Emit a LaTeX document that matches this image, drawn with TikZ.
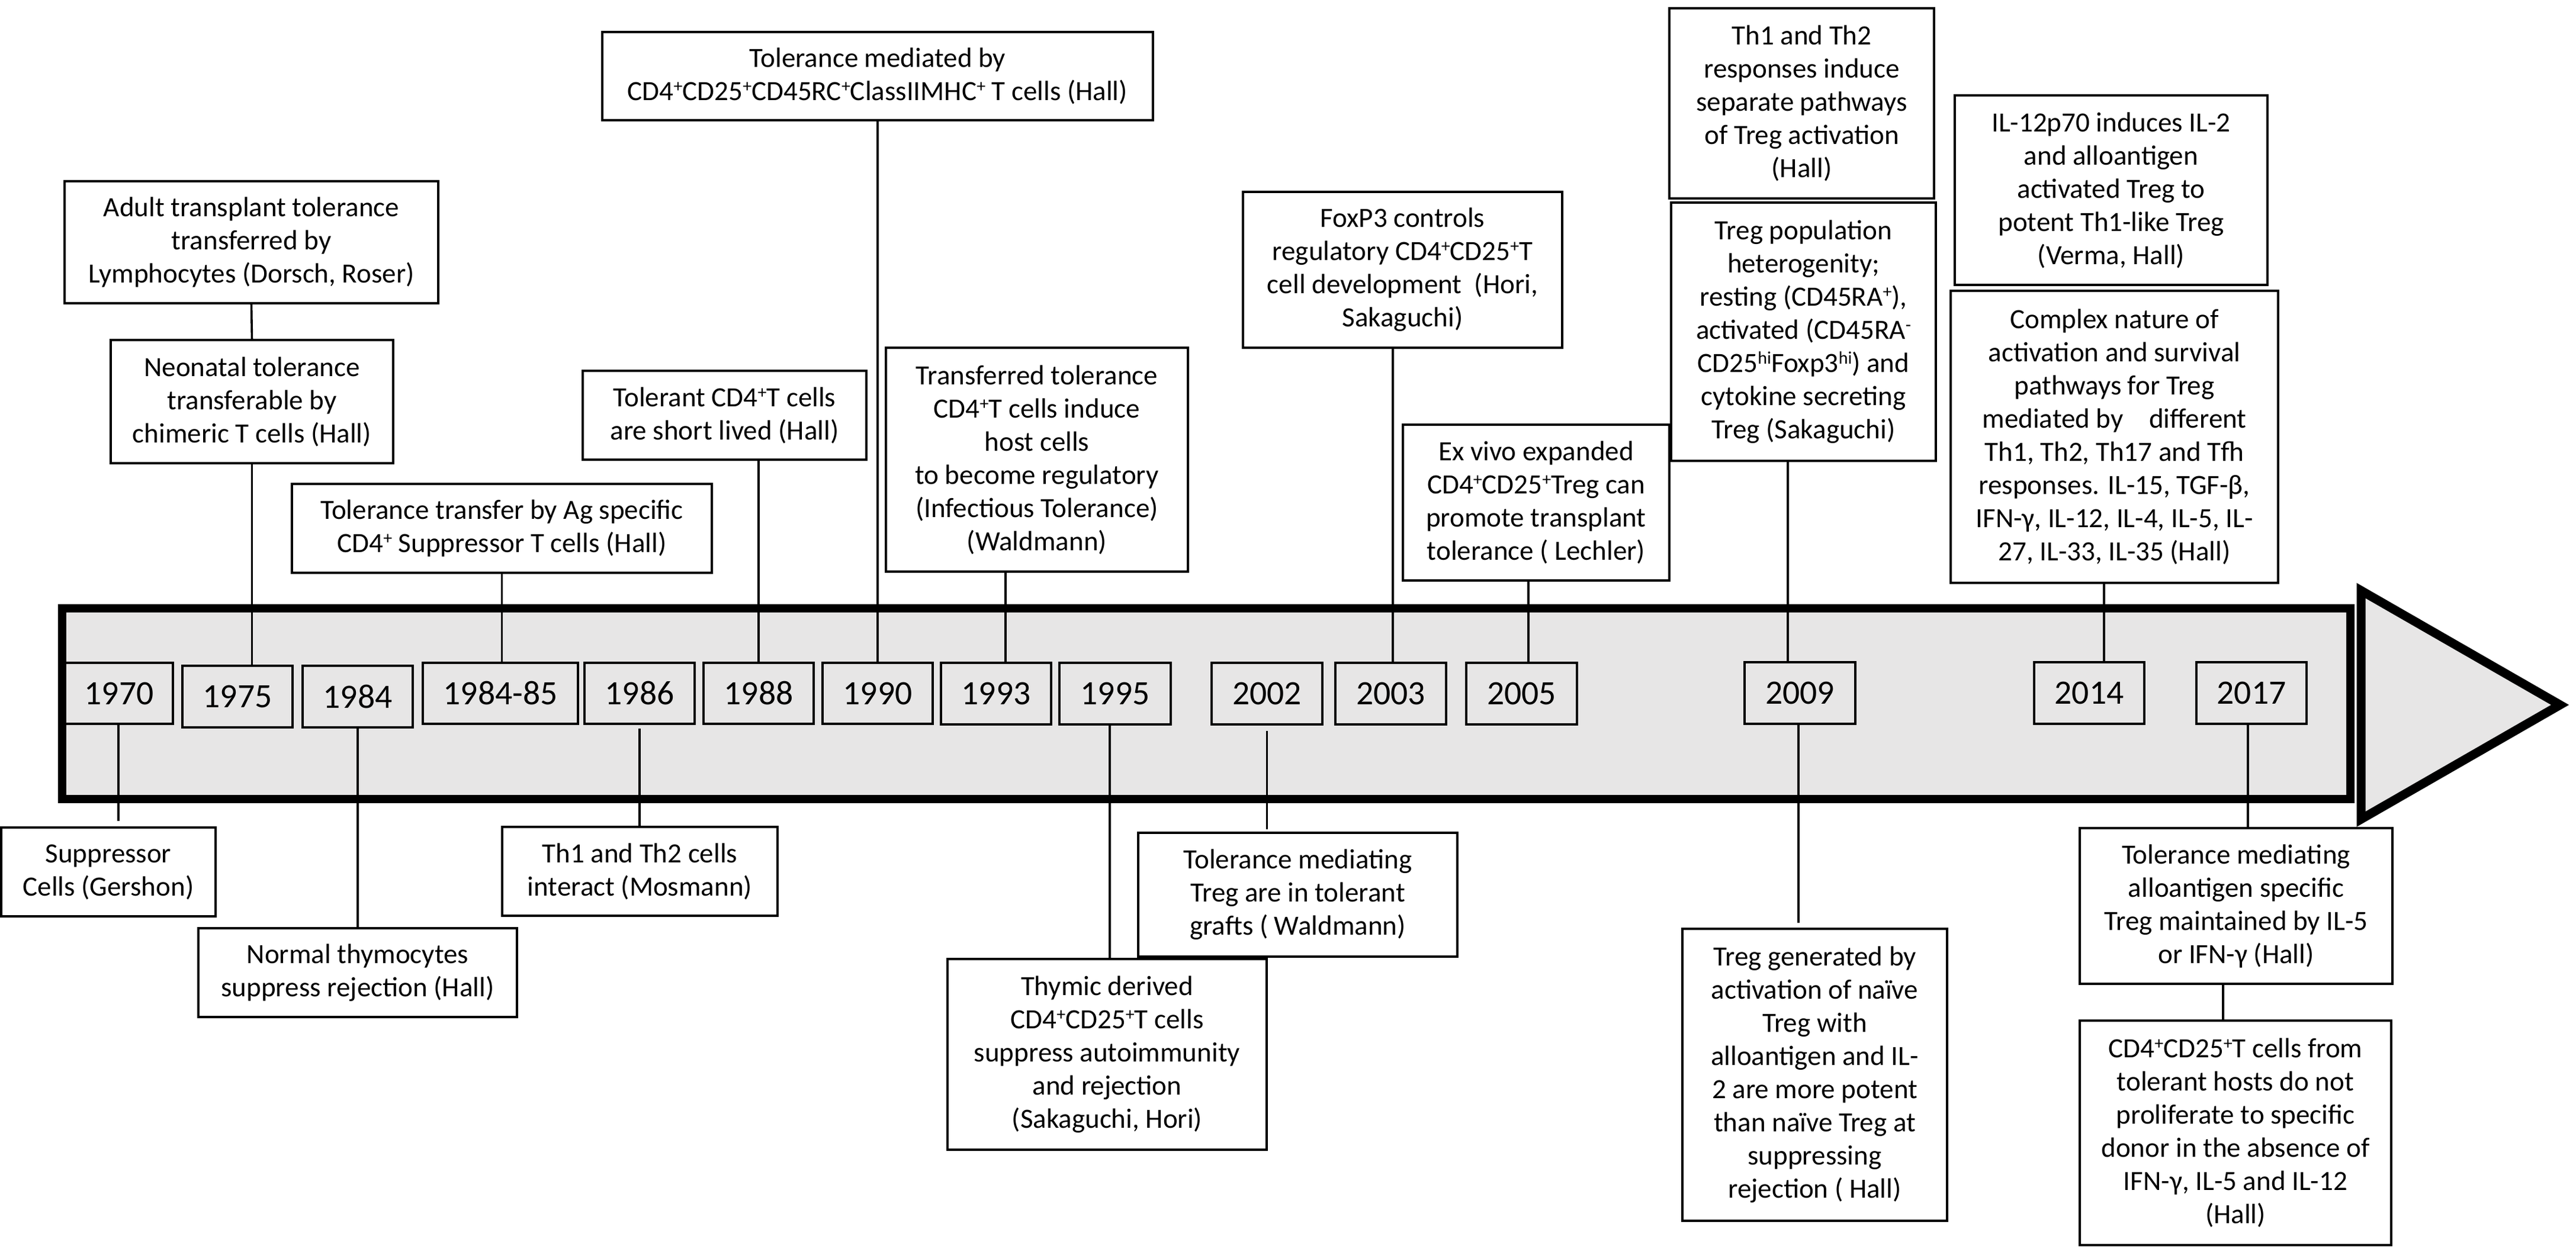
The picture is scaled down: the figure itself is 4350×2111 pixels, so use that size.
\documentclass[tikz,border=0pt]{standalone}
\usepackage{fontspec}
\setmainfont{Carlito}
\definecolor{bargray}{RGB}{231,230,230}
\newcommand\evfont{\fontsize{11.75pt}{14pt}\selectfont}
\newcommand\yrfont{\fontsize{14.4pt}{17pt}\selectfont}
\newcommand\sps[1]{\raisebox{0.62ex}{\fontsize{7.5pt}{8pt}\selectfont #1}}
\newcommand\ev[6]{\node[evbox, minimum width={(#4-#2)*0.25pt}, minimum height={(#5-#3)*0.25pt}] (#1) at ({(#2+#4)/2},{(#3+#5)/2}) {#6};}
\newcommand\yr[6]{\node[yearbox, minimum width={(#4-#2)*0.25pt}, minimum height={(#5-#3)*0.25pt}] (#1) at ({(#2+#4)/2},{(#3+#5)/2}) {#6};}
\begin{document}
\begin{tikzpicture}[x=0.25pt, y=-0.25pt,
  evbox/.style={draw, fill=white, line width=0.9pt, inner sep=0pt, outer sep=0pt, align=center, font=\evfont},
  yearbox/.style={draw, fill=bargray, line width=0.8pt, inner sep=0pt, outer sep=0pt, font=\yrfont},
  conn/.style={draw, line width=0.9pt}]
\useasboundingbox (0,0) rectangle (4350,2111);
\fill[white] (0,0) rectangle (4350,2111);
% timeline bar and arrow head
\draw[line width=3.5pt, fill=bargray] (105,1027) rectangle (3969,1349);
\draw[line width=3.75pt, fill=bargray, line join=miter] (3987,997) -- (4323,1190) -- (3987,1383) -- cycle;
% year boxes
\yr{y1970}{110}{1119}{292}{1222}{1970}
\yr{y1975}{308}{1124}{494}{1228}{1975}
\yr{y1984}{511}{1124}{697}{1228}{1984}
\yr{y1984b}{714}{1119}{976}{1222}{1984-85}
\yr{y1986}{987}{1119}{1173}{1222}{1986}
\yr{y1988}{1188}{1119}{1374}{1222}{1988}
\yr{y1990}{1389}{1119}{1575}{1222}{1990}
\yr{y1993}{1589}{1119}{1775}{1223}{1993}
\yr{y1995}{1789}{1119}{1977}{1223}{1995}
\yr{y2002}{2046}{1119}{2233}{1223}{2002}
\yr{y2003}{2255}{1119}{2442}{1223}{2003}
\yr{y2005}{2476}{1119}{2663}{1223}{2005}
\yr{y2009}{2946}{1118}{3133}{1222}{2009}
\yr{y2014}{3435}{1118}{3621}{1222}{2014}
\yr{y2017}{3709}{1118}{3895}{1222}{2017}
% events above
\ev{adult}{109}{306}{740}{512}{Adult transplant tolerance\\transferred by\\Lymphocytes (Dorsch, Roser)}
\ev{neonatal}{187}{574}{664}{782}{Neonatal tolerance\\transferable by\\chimeric T cells (Hall)}
\ev{tolTransfer}{493}{817}{1202}{967}{Tolerance transfer by Ag specific\\CD4\sps{+} Suppressor T cells (Hall)}
\ev{tolCD4}{984}{626}{1463}{776}{Tolerant CD4\sps{+}T cells\\are short lived (Hall)}
\ev{tolMed}{1017}{54}{1947}{203}{Tolerance mediated by\\CD4\sps{+}CD25\sps{+}CD45RC\sps{+}ClassIIMHC\sps{+} T cells (Hall)}
\ev{transferred}{1496}{587}{2006}{965}{Transferred tolerance\\CD4\sps{+}T cells induce\\host cells\\to become regulatory\\(Infectious Tolerance)\\(Waldmann)}
\ev{foxp3}{2099}{324}{2638}{587}{FoxP3 controls\\regulatory CD4\sps{+}CD25\sps{+}T\\cell development\ \ (Hori,\\Sakaguchi)}
\ev{exvivo}{2369}{717}{2819}{980}{Ex vivo expanded\\CD4\sps{+}CD25\sps{+}Treg can\\promote transplant\\tolerance ( Lechler)}
\ev{thresp}{2819}{14}{3266}{335}{Th1 and Th2\\responses induce\\separate pathways\\of Treg activation\\(Hall)}
\ev{tregpop}{2822}{342}{3269}{778}{Treg population\\heterogenity;\\resting (CD45RA\sps{+}),\\activated (CD45RA\sps{-}\\CD25\sps{hi}Foxp3\sps{hi}) and\\cytokine secreting\\Treg (Sakaguchi)}
\ev{iltwelve}{3301}{161}{3829}{481}{IL-12p70 induces IL-2\\and alloantigen\\activated Treg to\\potent Th1-like Treg\\(Verma, Hall)}
\ev{complex}{3294}{491}{3847}{984}{Complex nature of\\activation and survival\\pathways for Treg\\mediated by\hspace{0.7em} different\\Th1, Th2, Th17 and Tfh\\responses. IL-15, TGF-β,\\IFN-γ, IL-12, IL-4, IL-5, IL-\\27, IL-33, IL-35 (Hall)}
% events below
\ev{suppressor}{2}{1397}{364}{1547}{Suppressor\\Cells (Gershon)}
\ev{normal}{335}{1567}{873}{1717}{Normal thymocytes\\suppress rejection (Hall)}
\ev{thcells}{848}{1396}{1313}{1546}{Th1 and Th2 cells\\interact (Mosmann)}
\ev{thymic}{1600}{1619}{2139}{1941}{Thymic derived\\CD4\sps{+}CD25\sps{+}T cells\\suppress autoimmunity\\and rejection\\(Sakaguchi, Hori)}
\ev{tolMedTreg}{1922}{1406}{2461}{1615}{Tolerance mediating\\Treg are in tolerant\\grafts ( Waldmann)}
\ev{tregGen}{2841}{1568}{3288}{2061}{Treg generated by\\activation of naïve\\Treg with\\alloantigen and IL-\\2 are more potent\\than naïve Treg at\\suppressing\\rejection ( Hall)}
\ev{tolMedAllo}{3512}{1398}{4040}{1661}{Tolerance mediating\\alloantigen specific\\Treg maintained by IL-5\\or IFN-γ (Hall)}
\ev{cdtol}{3512}{1723}{4038}{2102}{CD4\sps{+}CD25\sps{+}T cells from\\tolerant hosts do not\\proliferate to specific\\donor in the absence of\\IFN-γ, IL-5 and IL-12\\(Hall)}
% connectors above
\draw[conn] (adult.south) -- (neonatal.north);
\draw[conn] (neonatal.south) -- (neonatal.south |- y1975.north);
\draw[conn] (tolTransfer.south) -- (tolTransfer.south |- y1984b.north);
\draw[conn] (y1988.north) -- (y1988.north |- tolCD4.south);
\draw[conn] (tolMed.south) -- (tolMed.south |- y1990.north);
\draw[conn] (1698,0 |- transferred.south) -- (1698,0 |- y1993.north);
\draw[conn] (2352,0 |- foxp3.south) -- (2352,0 |- y2003.north);
\draw[conn] (2581,0 |- exvivo.south) -- (2581,0 |- y2005.north);
\draw[conn] (3019,0 |- tregpop.south) -- (3019,0 |- y2009.north);
\draw[conn] (3553,0 |- complex.south) -- (3553,0 |- y2014.north);
% connectors below
\draw[conn, shorten >=2.8pt] (200,0 |- y1970.south) -- (200,0 |- suppressor.north);
\draw[conn] (y1984.south) -- (y1984.south |- normal.north);
\draw[conn, shorten <=2pt] (y1986.south) -- (y1986.south |- thcells.north);
\draw[conn] (1874,0 |- y1995.south) -- (1874,0 |- thymic.north);
\draw[conn, shorten <=2.8pt, shorten >=1.5pt] (y2002.south) -- (y2002.south |- tolMedTreg.north);
\draw[conn, shorten >=2.5pt] (3037,0 |- y2009.south) -- (3037,0 |- tregGen.north);
\draw[conn] (3796,0 |- y2017.south) -- (3796,0 |- tolMedAllo.north);
\draw[conn] (3754,0 |- tolMedAllo.south) -- (3754,0 |- cdtol.north);
\end{tikzpicture}
\end{document}
